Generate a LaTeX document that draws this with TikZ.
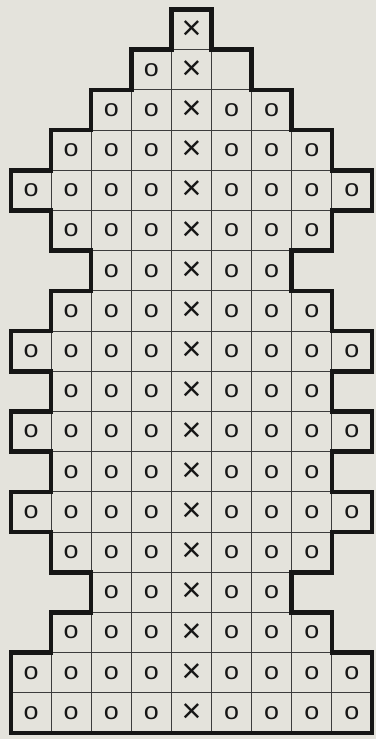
\documentclass[tikz,border=0pt]{standalone}
\usepackage{fontspec}
\setmainfont{Liberation Sans}
\newfontfamily\markfont[FakeStretch=1.12]{Liberation Sans}
\definecolor{paper}{RGB}{228,227,220}
\definecolor{ink}{RGB}{22,22,22}
\definecolor{thin}{RGB}{60,60,60}
\tikzset{
  outline/.style={line width=4.5pt, draw=ink, line join=miter},
  gridline/.style={line width=0.9pt, draw=thin},
  omark/.style={font=\markfont\fontsize{24}{24}\selectfont, text=ink, inner sep=0pt},
  xmark/.style={font=\fontsize{34}{34}\selectfont, text=ink, inner sep=0pt}
}
\begin{document}
\begin{tikzpicture}
\fill[paper] (0,0) rectangle (376pt,-739pt);
\useasboundingbox (0,0) rectangle (376pt,-739pt);
\begin{scope}[shift={(11pt,-9.5pt)}, x=40.1pt, y=-40.2pt]
  \foreach \r/\a/\b in {0/4/4,1/3/5,2/2/6,3/1/7,4/0/8,5/1/7,6/2/6,7/1/7,8/0/8,9/1/7,10/0/8,11/1/7,12/0/8,13/1/7,14/2/6,15/1/7,16/0/8,17/0/8}{
    \ifnum\a<\b
      \pgfmathtruncatemacro{\s}{\a+1}
      \foreach \c in {\s,...,\b}{ \draw[gridline] (\c,\r) -- (\c,\r+1); }
    \fi
    \foreach \c in {\a,...,\b}{
      \ifnum\c=4
        \node[xmark] (m-\r-\c) at (\c+0.5,\r+0.5) {×};
      \else
        \ifnum\r=1 \ifnum\c=5
          \coordinate (m-\r-\c) at (\c+0.5,\r+0.5);
        \else
          \node[omark] (m-\r-\c) at (\c+0.5,\r+0.5) {o};
        \fi
        \else
          \node[omark] (m-\r-\c) at (\c+0.5,\r+0.5) {o};
        \fi
      \fi
    }
  }
  \foreach \y/\f/\t in {1/4/5,2/3/6,3/2/7,4/1/8,5/1/8,6/2/7,7/2/7,8/1/8,9/1/8,10/1/8,11/1/8,12/1/8,13/1/8,14/2/7,15/2/7,16/1/8,17/0/9}{
    \draw[gridline] (\f,\y) -- (\t,\y);
  }
  \draw[outline] (4,0) -- (5,0) -- (5,1) -- (6,1) -- (6,2) -- (7,2) -- (7,3) -- (8,3) -- (8,4) -- (9,4) -- (9,5) -- (8,5) -- (8,6) -- (7,6) -- (7,7) -- (8,7) -- (8,8) -- (9,8) -- (9,9) -- (8,9) -- (8,10) -- (9,10) -- (9,11) -- (8,11) -- (8,12) -- (9,12) -- (9,13) -- (8,13) -- (8,14) -- (7,14) -- (7,15) -- (8,15) -- (8,16) -- (9,16) -- (9,18) -- (0,18) -- (0,16) -- (1,16) -- (1,15) -- (2,15) -- (2,14) -- (1,14) -- (1,13) -- (0,13) -- (0,12) -- (1,12) -- (1,11) -- (0,11) -- (0,10) -- (1,10) -- (1,9) -- (0,9) -- (0,8) -- (1,8) -- (1,7) -- (2,7) -- (2,6) -- (1,6) -- (1,5) -- (0,5) -- (0,4) -- (1,4) -- (1,3) -- (2,3) -- (2,2) -- (3,2) -- (3,1) -- (4,1) -- cycle;
\end{scope}
\end{tikzpicture}
\end{document}
